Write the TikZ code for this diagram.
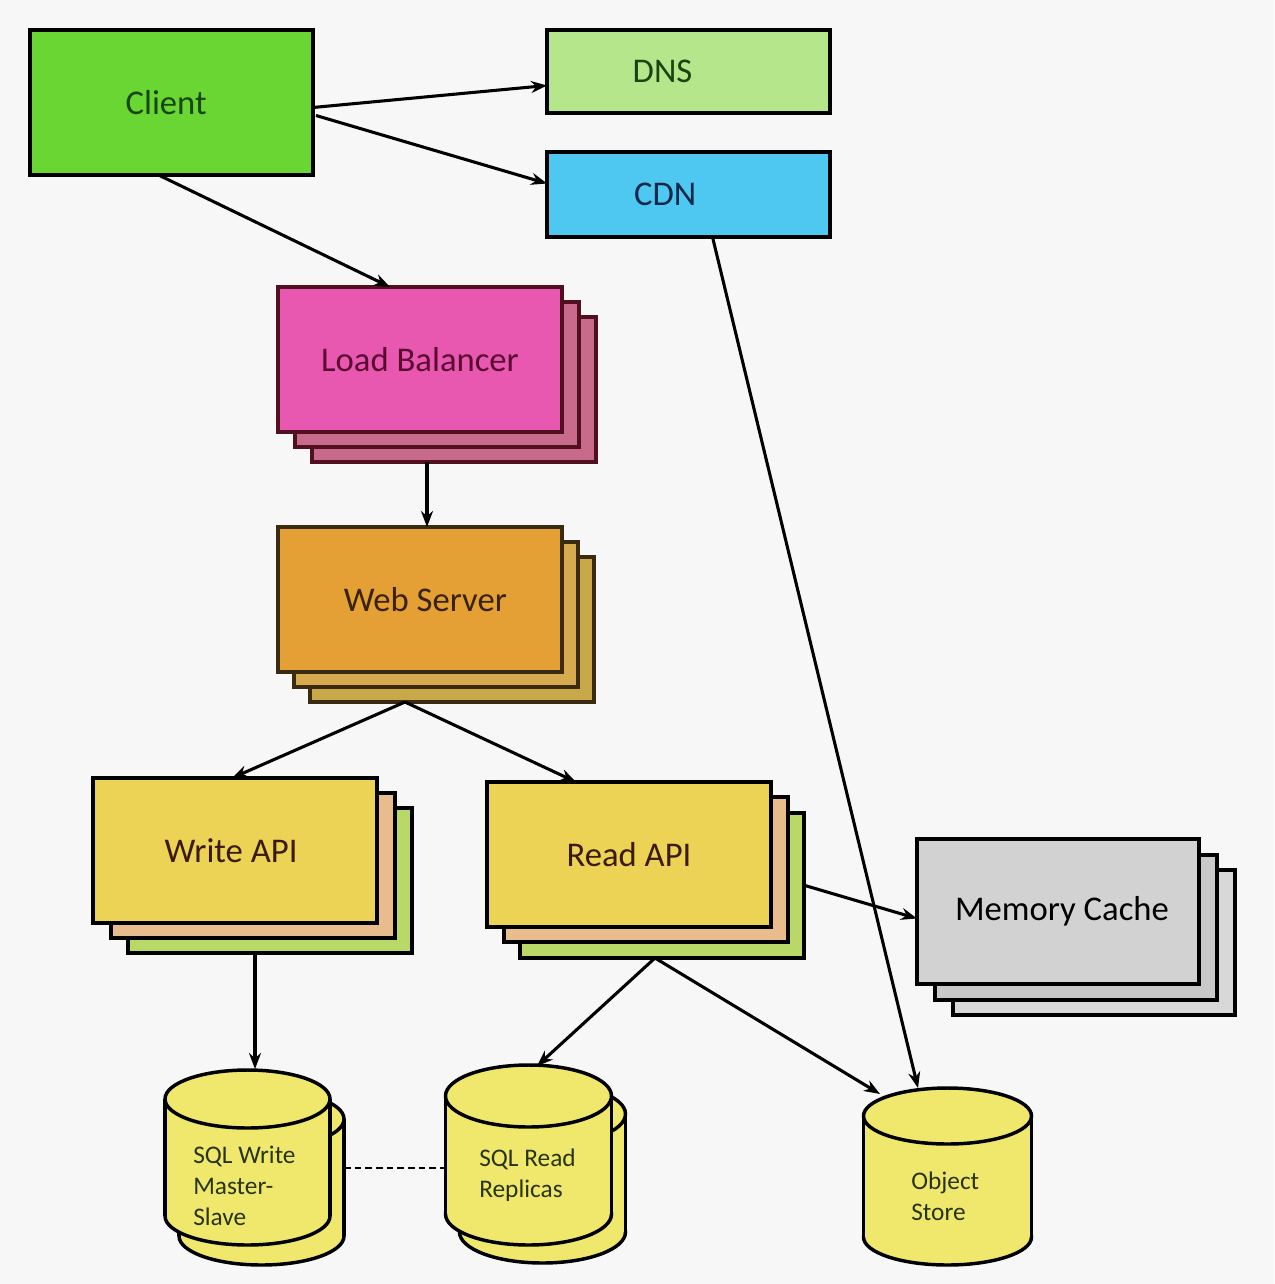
\documentclass[tikz,border=0pt]{standalone}
\usepackage{fontspec}
\setmainfont{Carlito}
\usetikzlibrary{arrows.meta,calc}

\definecolor{bgc}{RGB}{247,247,247}
\definecolor{clientfill}{RGB}{106,214,52}
\definecolor{clienttxt}{RGB}{24,70,16}
\definecolor{dnsfill}{RGB}{181,230,140}
\definecolor{cdnfill}{RGB}{78,200,240}
\definecolor{cdntxt}{RGB}{16,40,74}
\definecolor{lbfront}{RGB}{232,88,176}
\definecolor{lbback}{RGB}{200,106,138}
\definecolor{lbline}{RGB}{80,16,32}
\definecolor{lbtxt}{RGB}{90,10,48}
\definecolor{webfront}{RGB}{228,160,53}
\definecolor{webback}{RGB}{216,170,80}
\definecolor{webback2}{RGB}{200,168,72}
\definecolor{webline}{RGB}{58,42,16}
\definecolor{webtxt}{RGB}{58,34,0}
\definecolor{apifront}{RGB}{236,210,85}
\definecolor{apiback}{RGB}{232,188,140}
\definecolor{apiback2}{RGB}{184,216,104}
\definecolor{apitxt}{RGB}{58,26,10}
\definecolor{memfront}{RGB}{210,210,210}
\definecolor{memback}{RGB}{200,200,200}
\definecolor{memback2}{RGB}{216,216,216}
\definecolor{drumfill}{RGB}{240,232,108}
\definecolor{drumtxt}{RGB}{40,52,16}

% cylinder: centre x, top-face y, bottom-face y, x radius, y radius, fill
\newcommand\drum[6]{%
  \filldraw[fill=#6, draw=black, line width=2.6pt] (#1,#3) ellipse [x radius=#4, y radius=#5];
  \fill[#6] ({#1-#4},#2) rectangle ({#1+#4},#3);
  \draw[line width=2.6pt] ({#1-#4},#2) -- ({#1-#4},#3) ({#1+#4},#2) -- ({#1+#4},#3);
  \filldraw[fill=#6, draw=black, line width=2.6pt] (#1,#2) ellipse [x radius=#4, y radius=#5];
}

\begin{document}
\begin{tikzpicture}[x=0.75pt, y=-0.75pt,
  card/.style={draw=black, line width=2.8pt, anchor=north west,
               inner sep=0pt, outer sep=0pt},
  sz/.style 2 args={minimum width=#1*0.75pt, minimum height=#2*0.75pt},
  lbl/.style={font=\fontsize{26}{31}\selectfont},
  dbtext/.style={font=\fontsize{19}{23}\selectfont, text=drumtxt,
                 align=left, anchor=west, inner sep=0pt},
  conn/.style={line width=2.3pt, draw=black,
               -{Stealth[length=12pt, width=9pt]}},
  link/.style={line width=2.2pt, draw=black, dashed, dash pattern=on 5pt off 3pt}]

\fill[bgc] (0,0) rectangle (1274,1284);
\useasboundingbox (0,0) rectangle (1274,1284);

% top row
\node[card, sz={283}{145}, fill=clientfill, text=clienttxt, lbl, line width=3.2pt]
  (client) at (30,30) {Client\hspace*{8pt}};
\node[card, sz={283}{83}, fill=dnsfill, text=clienttxt, lbl]
  (dns) at (547,30) {DNS\hspace*{39pt}};
\node[card, sz={283}{85}, fill=cdnfill, text=cdntxt, lbl]
  (cdn) at (547,152) {CDN\hspace*{35pt}};

% load balancer stack
\node[card, sz={284}{145}, fill=lbback, draw=lbline] (lb-b2) at (312,317) {};
\node[card, sz={284}{145}, fill=lbback, draw=lbline] (lb-b1) at (295,302) {};
\node[card, sz={284}{145}, fill=lbfront, draw=lbline, text=lbtxt, lbl]
  (lb) at (278,287) {Load Balancer};

% web server stack
\node[card, sz={284}{145}, fill=webback2, draw=webline] (web-b2) at (310,557) {};
\node[card, sz={284}{145}, fill=webback, draw=webline] (web-b1) at (294,542) {};
\node[card, sz={284}{145}, fill=webfront, draw=webline, text=webtxt, lbl]
  (web) at (278,527) {\hspace*{8pt}Web Server};

% write API stack
\node[card, sz={284}{145}, fill=apiback2] (write-b2) at (128,808) {};
\node[card, sz={284}{145}, fill=apiback] (write-b1) at (111,793) {};
\node[card, sz={284}{145}, fill=apifront, text=apitxt, lbl]
  (write) at (93,778) {Write API\hspace*{6pt}};

% read API stack
\node[card, sz={284}{145}, fill=apiback2] (read-b2) at (520,813) {};
\node[card, sz={284}{145}, fill=apiback] (read-b1) at (504,797) {};
\node[card, sz={284}{145}, fill=apifront, text=apitxt, lbl]
  (read) at (487,782) {Read API};

% memory cache stack
\node[card, sz={282}{145}, fill=memback2] (mem-b2) at (953,870) {};
\node[card, sz={282}{145}, fill=memback] (mem-b1) at (935,855) {};
\node[card, sz={282}{145}, fill=memfront, lbl]
  (mem) at (917,839) {\hspace*{6pt}Memory Cache};

% databases
\drum{261.5}{1119}{1236}{82.5}{29}{drumfill}
\drum{247.5}{1099}{1216}{82.5}{29}{drumfill}
\node[dbtext] (sqlw) at (193,1186) {SQL Write\\Master-\\Slave};
\coordinate (sqlw-top) at (255,1069);
\coordinate (sqlw-side) at (344,1168);

\drum{542.5}{1114}{1232}{83}{31}{drumfill}
\drum{528.5}{1096}{1214}{83}{31}{drumfill}
\node[dbtext] (sqlr) at (479,1175) {SQL Read\\Replicas};
\coordinate (sqlr-top) at (537,1066);
\coordinate (sqlr-side) at (445.5,1168);

\drum{947.5}{1116}{1237}{84}{28}{drumfill}
\node[dbtext] (obj) at (911,1196) {Object\\Store};
\coordinate (obj-top) at (918,1088);
\coordinate (obj-rim) at (880,1094);

% connectors
\draw[conn] ($(client.east)+(0,5)$) -- ($(dns.west)+(0,14)$);
\draw[conn] ($(client.east)+(3,13)$) -- ($(cdn.west)+(0,-11)$);
\draw[conn] ($(client.south)+(-13,0)$) -- ($(lb.north)+(-30,0)$);
\draw[conn] ($(lb-b2.south)+(-27,0)$) -- ($(web.north)+(7,0)$);
\draw[conn] ($(web-b2.south)+(-47,0)$) -- ($(write.north)+(-3,0)$);
\draw[conn] ($(web-b2.south)+(-47,0)$) -- ($(read.north)+(-53,0)$);
\draw[conn] ($(cdn.south)+(24,0)$) -- (obj-top);
\draw[conn] ($(read-b2.east)+(1,0)$) -- ($(mem.west)+(0,7)$);
\draw[conn] ($(write-b2.south)+(-15,0)$) -- (sqlw-top);
\draw[conn] ($(read-b2.south)+(-7,0)$) -- (sqlr-top);
\draw[conn] ($(read-b2.south)+(-7,0)$) -- (obj-rim);
\draw[link] (sqlw-side) -- (sqlr-side);

\end{tikzpicture}
\end{document}
